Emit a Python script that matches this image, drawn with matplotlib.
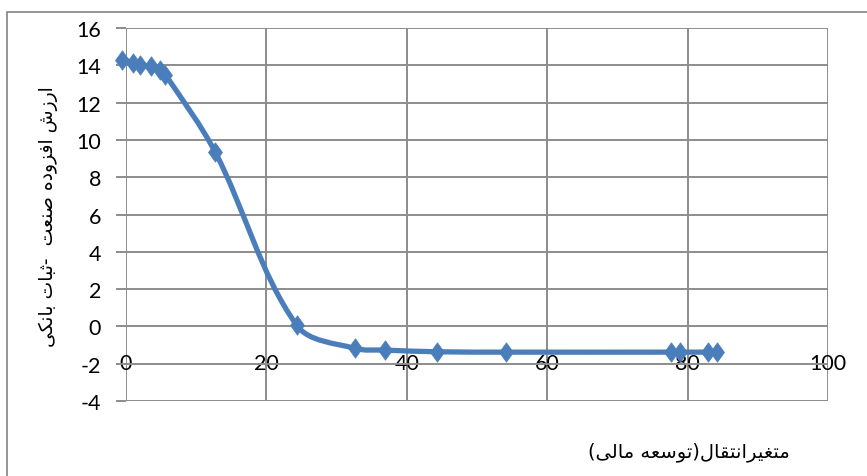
import numpy as np
import matplotlib
matplotlib.use("Agg")
import matplotlib.pyplot as plt
from matplotlib.path import Path
from matplotlib.patches import PathPatch, Rectangle

plt.rcParams["axes.unicode_minus"] = False

# values
x_vals = [-0.6, 1.0, 2.0, 3.6, 4.8, 5.6, 12.7, 24.3, 32.6, 36.9, 44.3, 54.2, 77.6, 78.9, 82.9, 84.2]
y_vals = [14.3, 14.15, 14.0, 13.95, 13.75, 13.5, 9.35, 0.07, -1.18, -1.27, -1.36, -1.38, -1.38, -1.38, -1.38, -1.38]
x_ticks = [0, 20, 40, 60, 80, 100]
y_ticks = list(range(-4, 17, 2))
y_title = "ارزش افزوده صنعت  -ثبات بانکی"
x_title = "متغیرانتقال(توسعه مالی)"

BLUE = "#4A7EBB"
GRID = "#8C8C8C"

# minimal Persian shaping (isolated, final, initial, medial) -> visual order
FORMS = {
    "ا": "\uFE8D\uFE8E", "ب": "\uFE8F\uFE90\uFE91\uFE92", "ت": "\uFE95\uFE96\uFE97\uFE98",
    "ث": "\uFE99\uFE9A\uFE9B\uFE9C", "د": "\uFEA9\uFEAA", "ر": "\uFEAD\uFEAE", "ز": "\uFEAF\uFEB0",
    "س": "\uFEB1\uFEB2\uFEB3\uFEB4", "ش": "\uFEB5\uFEB6\uFEB7\uFEB8", "ص": "\uFEB9\uFEBA\uFEBB\uFEBC",
    "ع": "\uFEC9\uFECA\uFECB\uFECC", "غ": "\uFECD\uFECE\uFECF\uFED0", "ف": "\uFED1\uFED2\uFED3\uFED4",
    "ق": "\uFED5\uFED6\uFED7\uFED8", "ل": "\uFEDD\uFEDE\uFEDF\uFEE0", "م": "\uFEE1\uFEE2\uFEE3\uFEE4",
    "ن": "\uFEE5\uFEE6\uFEE7\uFEE8", "ه": "\uFEE9\uFEEA\uFEEB\uFEEC", "و": "\uFEED\uFEEE",
    "ک": "\uFB8E\uFB8F\uFB90\uFB91", "ی": "\uFBFC\uFBFD\uFBFE\uFBFF",
}


def shape(s):
    out = []
    for i, c in enumerate(s):
        if c not in FORMS:
            out.append({"(": ")", ")": "("}.get(c, c))
            continue
        prev = s[i - 1] if i > 0 else ""
        nxt = s[i + 1] if i + 1 < len(s) else ""
        jp = prev in FORMS and len(FORMS[prev]) == 4
        jn = len(FORMS[c]) == 4 and nxt in FORMS
        f = FORMS[c]
        if jp and jn:
            out.append(f[3])
        elif jp:
            out.append(f[1])
        elif jn:
            out.append(f[2])
        else:
            out.append(f[0])
    return "".join(out[::-1])


fig = plt.figure(figsize=(8.67, 4.77), dpi=100)
fig.patches.append(Rectangle((7 / 867, -0.1), 1.2, 1.1 - 13 / 477, transform=fig.transFigure,
                             fill=False, edgecolor=GRID, lw=1.3))
ax = fig.add_axes([126 / 867, 75 / 477, 702 / 867, 373 / 477])
ax.set_xlim(0, 100)
ax.set_ylim(-4, 16)
ax.set_xticks(x_ticks)
ax.set_yticks(y_ticks)
ax.grid(True, color=GRID, lw=1.4)
ax.set_axisbelow(True)
for sp in ax.spines.values():
    sp.set_visible(False)
ax.spines["bottom"].set_position(("data", 0))
ax.tick_params(axis="x", length=0, pad=19, labelsize=15.5, labelcolor="black")
ax.tick_params(axis="y", length=7, width=1.4, color=GRID, pad=11, labelsize=15.5)
for lab in ax.get_xticklabels() + ax.get_yticklabels():
    lab.set_fontfamily("Lato")

# smooth (Excel-like) curve: cubic Bezier through the points, built in display space
P = ax.transData.transform(np.column_stack([x_vals, y_vals]))
verts = [P[0]]
codes = [Path.MOVETO]
n = len(P)
for i in range(n - 1):
    a, b = P[i], P[i + 1]
    seg = np.hypot(*(b - a))
    ta = P[min(i + 1, n - 1)] - P[max(i - 1, 0)]
    tb = P[min(i + 2, n - 1)] - P[i]
    ta = ta / np.hypot(*ta)
    tb = tb / np.hypot(*tb)
    verts += [a + ta * seg / 3, b - tb * seg / 3, b]
    codes += [Path.CURVE4] * 3
verts = ax.transData.inverted().transform(np.array(verts))
ax.add_patch(PathPatch(Path(verts, codes), facecolor="none", edgecolor=BLUE, lw=3.8,
                       capstyle="round", zorder=3, clip_on=False))
diamond = [(0, 1), (0.72, 0), (0, -1), (-0.72, 0), (0, 1)]
ax.plot(x_vals, y_vals, ls="none", marker=diamond, ms=14, color=BLUE, mec=BLUE, mew=0.5,
        zorder=4, clip_on=False)

fig.text(48 / 867, 1 - 217 / 477, shape(y_title), rotation=90, ha="center", va="center",
         fontsize=13.5, family="DejaVu Sans")
fig.text(689 / 867, 1 - 452 / 477, shape(x_title), ha="center", va="center",
         fontsize=14, family="DejaVu Sans")

fig.savefig("out.png", dpi=100)
